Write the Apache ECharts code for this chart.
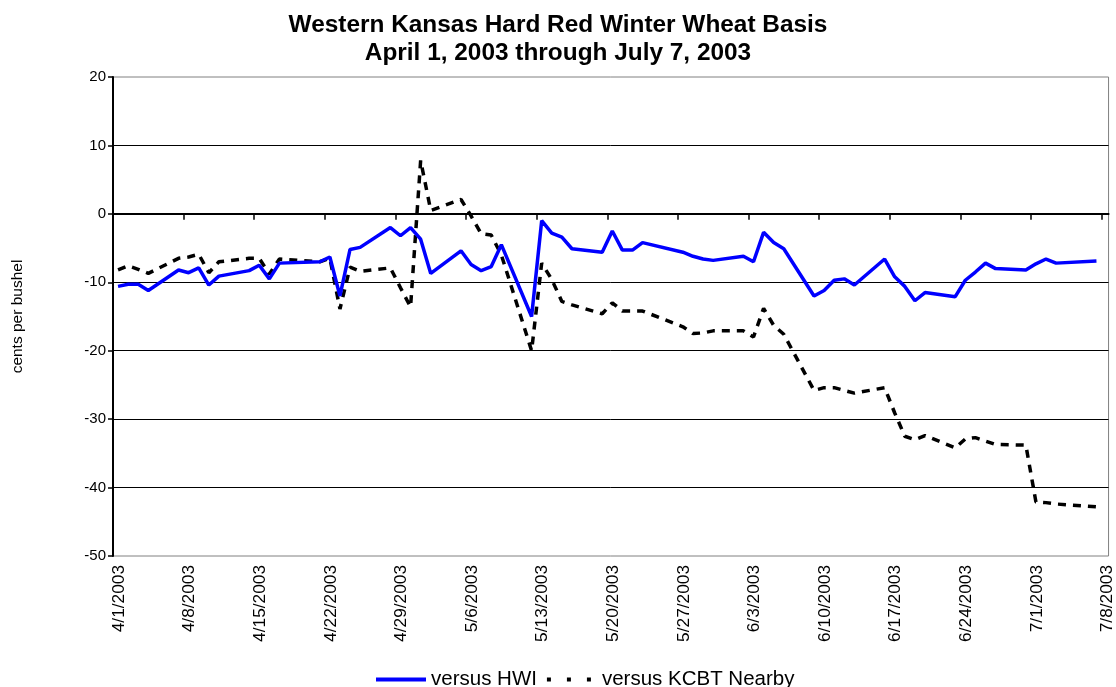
<!DOCTYPE html>
<html>
<head>
<meta charset="utf-8">
<title>Western Kansas Hard Red Winter Wheat Basis</title>
<script src="https://cdn.jsdelivr.net/npm/echarts@6/dist/echarts.min.js"></script>
<style>
    html, body { margin: 0; padding: 0; background: #fff; }
    #chart { width: 1116px; height: 687px; }
</style>
</head>
<body>
<div id="chart"></div>
<script>
// trading days, 2003
const dates = [
    '4/1', '4/2', '4/3', '4/4', '4/7', '4/8', '4/9', '4/10', '4/11',
    '4/14', '4/15', '4/16', '4/17', '4/21', '4/22', '4/23', '4/24', '4/25',
    '4/28', '4/29', '4/30', '5/1', '5/2', '5/5', '5/6', '5/7', '5/8', '5/9',
    '5/12', '5/13', '5/14', '5/15', '5/16', '5/19', '5/20', '5/21', '5/22', '5/23',
    '5/27', '5/28', '5/29', '5/30', '6/2', '6/3', '6/4', '6/5', '6/6',
    '6/9', '6/10', '6/11', '6/12', '6/13', '6/16', '6/17', '6/18', '6/19', '6/20',
    '6/23', '6/24', '6/25', '6/26', '6/27', '6/30', '7/1', '7/2', '7/3', '7/7'
];
// cents per bushel
const hwiBasis = [
    -10.6, -10.3, -10.3, -11.2, -8.2, -8.6, -7.9, -10.4, -9.1,
    -8.3, -7.5, -9.5, -7.2, -7.0, -6.3, -12.0, -5.2, -4.9,
    -2.0, -3.2, -2.0, -3.7, -8.7, -5.4, -7.4, -8.3, -7.7, -4.5,
    -15.0, -1.0, -2.8, -3.4, -5.1, -5.6, -2.5, -5.3, -5.3, -4.2,
    -5.6, -6.2, -6.6, -6.8, -6.2, -7.0, -2.7, -4.2, -5.1,
    -12.0, -11.2, -9.7, -9.5, -10.4, -6.6, -9.2, -10.6, -12.7, -11.5,
    -12.1, -9.7, -8.5, -7.2, -8.0, -8.2, -7.3, -6.6, -7.2, -6.9
];
const kcbtBasis = [
    -8.2, -7.6, -8.1, -8.7, -6.5, -6.3, -5.9, -8.6, -7.0,
    -6.5, -6.5, -8.8, -6.6, -7.0, -6.5, -13.9, -7.8, -8.4,
    -7.9, -10.8, -13.6, 7.8, 0.5, 2.1, -0.3, -2.9, -3.1, -6.0,
    -20.0, -7.2, -9.6, -12.8, -13.3, -14.6, -13.0, -14.2, -14.2, -14.2,
    -16.5, -17.5, -17.4, -17.1, -17.1, -18.0, -13.8, -16.3, -17.6,
    -25.8, -25.4, -25.4, -25.8, -26.2, -25.4, -29.1, -32.5, -33.0, -32.4,
    -34.2, -32.9, -32.7, -33.2, -33.7, -33.8, -42.1, -42.2, -42.4, -42.8
];
const tickLabels = [
    '4/1/2003', '4/8/2003', '4/15/2003', '4/22/2003', '4/29/2003', '5/6/2003', '5/13/2003',
    '5/20/2003', '5/27/2003', '6/3/2003', '6/10/2003', '6/17/2003', '6/24/2003', '7/1/2003', '7/8/2003'
];

const startDay = Date.UTC(2003, 3, 1);
function dayOf(s) {
    const p = s.split('/');
    return (Date.UTC(2003, +p[0] - 1, +p[1]) - startDay) / 86400000;
}
const tickDays = tickLabels.map(dayOf);

// each date sits in the middle of its day
const hwiData = dates.map((d, i) => [dayOf(d) + 0.5, hwiBasis[i]]);
const kcbtData = dates.map((d, i) => [dayOf(d) + 0.5, kcbtBasis[i]]);

const font = '"Liberation Sans", Arial, sans-serif';

const option = {
    backgroundColor: '#fff',
    animation: false,
    textStyle: { fontFamily: font, color: '#000' },
    title: {
        text: 'Western Kansas Hard Red Winter Wheat Basis\nApril 1, 2003 through July 7, 2003',
        left: 'center',
        top: 6,
        textStyle: { fontFamily: font, fontSize: 24.4, fontWeight: 'bold', lineHeight: 28, color: '#000' }
    },
    legend: {
        left: 369,
        top: 664,
        itemWidth: 50,
        itemHeight: 14,
        itemGap: 8,
        itemStyle: { opacity: 0 },
        textStyle: { fontFamily: font, fontSize: 20.5, color: '#000' },
        data: [
            { name: 'versus HWI', lineStyle: { width: 4 } },
            { name: 'versus KCBT Nearby', lineStyle: { width: 4, type: [4, 16] } }
        ]
    },
    grid: {
        left: 113,
        right: 6,
        top: 77,
        bottom: 131,
        show: true,
        borderColor: '#808080',
        borderWidth: 1,
        backgroundColor: '#fff'
    },
    xAxis: [
        {
            type: 'value',
            min: 0,
            max: 98.7,
            interval: 7,
            axisLine: { show: false, onZero: false },
            axisTick: { show: false },
            splitLine: { show: false },
            axisLabel: {
                customValues: tickDays,
                rotate: 90,
                margin: 9,
                fontSize: 17.3,
                verticalAlign: 'top',
                lineHeight: 12,
                color: '#000',
                fontFamily: font,
                formatter: function (v) {
                    const i = tickDays.indexOf(v);
                    return i >= 0 ? tickLabels[i] : '';
                }
            }
        },
        {
            type: 'value',
            min: 0,
            max: 98.7,
            interval: 7,
            position: 'bottom',
            axisLine: { show: true, onZero: true, lineStyle: { color: '#000', width: 2 } },
            axisTick: { show: true, customValues: tickDays, length: 6, lineStyle: { color: '#000', width: 1.5 } },
            axisLabel: { show: false },
            splitLine: { show: false }
        }
    ],
    yAxis: {
        type: 'value',
        min: -50,
        max: 20,
        interval: 10,
        name: 'cents per bushel',
        nameLocation: 'middle',
        nameRotate: 90,
        nameGap: 87,
        nameTextStyle: { fontFamily: font, fontSize: 15.5, color: '#000' },
        axisLine: { show: true, onZero: false, lineStyle: { color: '#000', width: 2 } },
        axisTick: { show: true, length: 5, lineStyle: { color: '#000', width: 1.5 } },
        axisLabel: { fontSize: 15, color: '#000', margin: 7, fontFamily: font },
        splitLine: { show: true, showMinLine: false, showMaxLine: false, lineStyle: { color: '#000', width: 1 } }
    },
    series: [
        {
            name: 'versus HWI',
            type: 'line',
            xAxisIndex: 0,
            data: hwiData,
            symbol: 'none',
            itemStyle: { color: '#0000ff' },
            lineStyle: { color: '#0000ff', width: 3.5 },
            z: 3
        },
        {
            name: 'versus KCBT Nearby',
            type: 'line',
            xAxisIndex: 0,
            data: kcbtData,
            symbol: 'none',
            itemStyle: { color: '#000' },
            lineStyle: { color: '#000', width: 3.5, type: [8, 7] },
            z: 2
        }
    ]
};

const chart = echarts.init(document.getElementById('chart'));
chart.setOption(option);
window.addEventListener('resize', function () {
    chart.resize();
});
</script>
</body>
</html>
